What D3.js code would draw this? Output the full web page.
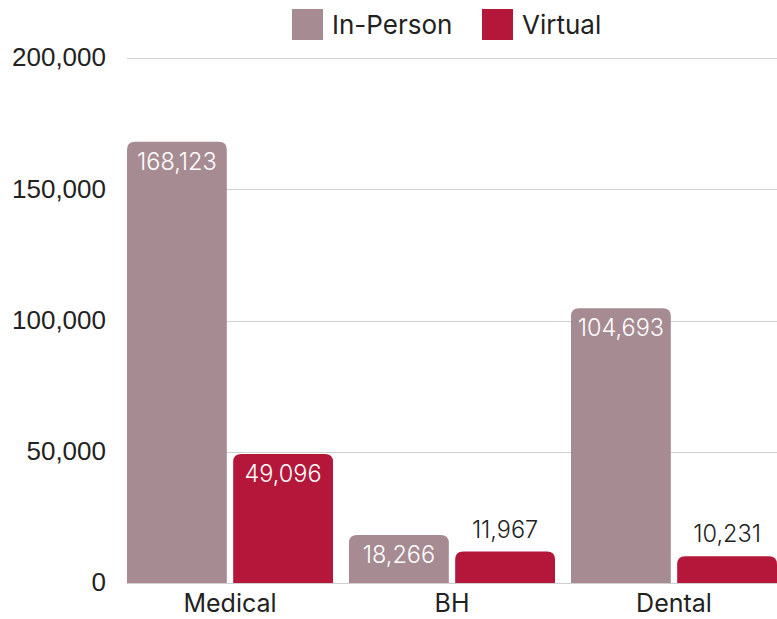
<!DOCTYPE html>
<html><head><meta charset="utf-8">
<script src="https://cdn.jsdelivr.net/npm/d3@7"></script>
<style>body{margin:0;background:#fff;}svg{display:block;}</style>
</head><body>
<svg id="c" width="777" height="619"></svg>
<script>
const categories = ["Medical", "BH", "Dental"];
const seriesNames = ["In-Person", "Virtual"];
const inPerson = [168123, 18266, 104693];
const virtual = [49096, 11967, 10231];
const yTicks = [0, 50000, 100000, 150000, 200000];
const colors = ["#a68b92", "#b5173a"];

const svg = d3.select("#c");
const W = 777, H = 619;
const baseY = 583, topY = 58, plotL = 127, plotR = 777;
const catFont = "Inter, 'Noto Sans', sans-serif";

const y = d3.scaleLinear().domain([0, 200000]).range([baseY, topY]);
const x0 = d3.scaleBand().domain(categories).range([119, 785]).padding(0);
const x1 = d3.scaleBand().domain(seriesNames).range([8, 214]).paddingInner(0.06);

// gridlines
svg.append("g").selectAll("line").data(yTicks).join("line")
  .attr("x1", plotL).attr("x2", plotR)
  .attr("y1", d => Math.round(y(d)) + 0.5).attr("y2", d => Math.round(y(d)) + 0.5)
  .attr("stroke", "#cfcfcf").attr("stroke-width", 1);

// y axis labels
const yAxis = d3.axisLeft(y).tickValues(yTicks).tickFormat(d3.format(",")).tickSize(0).tickPadding(0);
const ga = svg.append("g").attr("transform", "translate(106,0)").call(yAxis);
ga.select(".domain").remove();
ga.selectAll("text").attr("font-family", "'Liberation Sans', Arial, sans-serif")
  .attr("font-size", 26).attr("fill", "#222").attr("dy", "0.3em");

const data = categories.map((c, i) => ({cat: c, vals: [inPerson[i], virtual[i]]}));

function topRounded(x, yTop, w, h, r) {
  r = Math.min(r, h, w / 2);
  return `M${x},${yTop + h}V${yTop + r}Q${x},${yTop} ${x + r},${yTop}H${x + w - r}Q${x + w},${yTop} ${x + w},${yTop + r}V${yTop + h}Z`;
}

svg.append("clipPath").attr("id", "pc").append("rect")
  .attr("x", plotL).attr("y", 0).attr("width", plotR - plotL).attr("height", H);

const groups = svg.append("g").attr("clip-path", "url(#pc)").selectAll("g.grp").data(data).join("g")
  .attr("class", "grp").attr("transform", d => `translate(${x0(d.cat)},0)`);

groups.each(function(d) {
  const g = d3.select(this);
  d.vals.forEach((v, si) => {
    const bx = x1(seriesNames[si]), bw = x1.bandwidth();
    const yt = y(v), h = baseY - yt;
    g.append("path").attr("d", topRounded(bx, yt, bw, h, 8)).attr("fill", colors[si]);
    const inside = h > 40;
    g.append("text")
      .attr("x", bx + bw / 2)
      .attr("y", inside ? yt + 28 : yt - 14)
      .attr("text-anchor", "middle")
      .attr("font-family", catFont).attr("font-weight", 300)
      .attr("font-size", 23.5)
      .attr("fill", inside ? "#fff" : "#222")
      .text(d3.format(",")(v));
  });
});

// category labels
svg.append("g").selectAll("text").data(categories).join("text")
  .attr("x", d => x0(d) + x0.bandwidth() / 2)
  .attr("y", 612)
  .attr("text-anchor", "middle")
  .attr("font-family", catFont).attr("font-size", 25).attr("fill", "#222")
  .text(d => d);

// legend
const legend = [{n: seriesNames[0], x: 292, tx: 332}, {n: seriesNames[1], x: 482, tx: 522}];
const lg = svg.append("g");
legend.forEach((l, i) => {
  lg.append("rect").attr("x", l.x).attr("y", 9).attr("width", 31).attr("height", 31).attr("fill", colors[i]);
  lg.append("text").attr("x", l.tx).attr("y", 34).attr("font-family", catFont).attr("font-size", 26)
    .attr("fill", "#222").text(l.n);
});
</script>
</body></html>
